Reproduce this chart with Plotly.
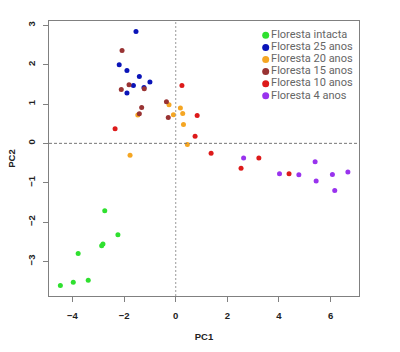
import plotly.graph_objects as go

groups = ["Floresta intacta", "Floresta 25 anos", "Floresta 20 anos",
          "Floresta 15 anos", "Floresta 10 anos", "Floresta 4 anos"]
colors = ["#2fe02f", "#0a14b8", "#f5a623", "#993333", "#dd1a1a", "#9933ee"]

pc1_intacta = [-2.75, -2.24, -2.82, -2.87, -3.78, -3.39, -3.97, -4.47]
pc2_intacta = [-1.71, -2.32, -2.56, -2.60, -2.80, -3.48, -3.53, -3.61]

pc1_25 = [-1.54, -2.19, -1.89, -1.41, -1.00, -1.64, -1.23, -1.89]
pc2_25 = [2.84, 2.00, 1.85, 1.70, 1.56, 1.47, 1.42, 1.28]

pc1_20 = [-1.47, -0.26, -0.09, 0.18, 0.27, 0.30, 0.45, -1.77]
pc2_20 = [0.72, 0.98, 0.73, 0.90, 0.76, 0.48, -0.03, -0.30]

pc1_15 = [-2.08, -2.11, -1.81, -1.22, -1.32, -1.41, -0.36, -0.29]
pc2_15 = [2.36, 1.37, 1.49, 1.39, 0.91, 0.75, 1.06, 0.66]

pc1_10 = [-2.35, 0.24, 0.83, 0.75, 1.37, 2.53, 3.22, 4.39]
pc2_10 = [0.37, 1.47, 0.71, 0.18, -0.25, -0.63, -0.37, -0.77]

pc1_4 = [2.63, 4.02, 4.77, 5.40, 6.07, 6.67, 5.44, 6.16]
pc2_4 = [-0.37, -0.77, -0.80, -0.47, -0.79, -0.73, -0.96, -1.20]

xs = [pc1_intacta, pc1_25, pc1_20, pc1_15, pc1_10, pc1_4]
ys = [pc2_intacta, pc2_25, pc2_20, pc2_15, pc2_10, pc2_4]

x_ticks = [-4, -2, 0, 2, 4, 6]
y_ticks = [-3, -2, -1, 0, 1, 2, 3]

fig = go.Figure()

for name, col, x, y in zip(groups, colors, xs, ys):
    fig.add_trace(go.Scatter(x=x, y=y, mode="markers", name=name,
                             marker=dict(color=col, size=5, line=dict(width=0)),
                             showlegend=False))

# legend drawn on an overlay categorical axis
fig.add_trace(go.Scatter(x=[0] * len(groups), y=groups, mode="markers+text",
                         text=groups, textposition="middle right",
                         textfont=dict(family="Roboto, sans-serif",
                                       size=11, color="#666666"),
                         marker=dict(color=colors, size=7, line=dict(width=0)),
                         xaxis="x2", yaxis="y2", showlegend=False, cliponaxis=False))

fig.add_hline(y=0, line=dict(color="#777777", width=1, dash="3px,2px"))
fig.add_vline(x=0, line=dict(color="#999999", width=1, dash="2px,2px"))

tickfont = dict(family="Liberation Sans, Arial, sans-serif", size=9.5,
                color="#222222", weight="bold")

fig.update_layout(
    width=400, height=352,
    margin=dict(l=49, r=41, t=21, b=54),
    paper_bgcolor="white", plot_bgcolor="white",
    font=dict(family="Liberation Sans, Arial, sans-serif"),
    xaxis=dict(range=[-4.91, 7.1], tickvals=x_ticks, showgrid=False, zeroline=False,
               showline=True, mirror=True, linecolor="#808080", linewidth=1,
               ticks="outside", ticklen=5, tickcolor="#808080",
               tickfont=tickfont, ticklabelstandoff=6,
               title=dict(text="<b>PC1</b>", font=dict(size=9.5, color="#222222"), standoff=12)),
    yaxis=dict(range=[-3.88, 3.11], tickvals=y_ticks, showgrid=False, zeroline=False,
               showline=True, mirror=True, linecolor="#808080", linewidth=1,
               ticks="outside", ticklen=5, tickcolor="#808080",
               tickfont=tickfont, tickangle=-90, ticklabelstandoff=4,
               title=dict(text="<b>PC2</b>", font=dict(size=9.5, color="#222222"), standoff=8)),
    xaxis2=dict(domain=[0.699, 1.0], range=[0, 1], visible=False, anchor="y2"),
    yaxis2=dict(domain=[0.706, 0.970], type="category", categoryorder="array",
                categoryarray=groups, range=[5.5, -0.5], visible=False, anchor="x2"),
)

fig.write_html("out.html")
